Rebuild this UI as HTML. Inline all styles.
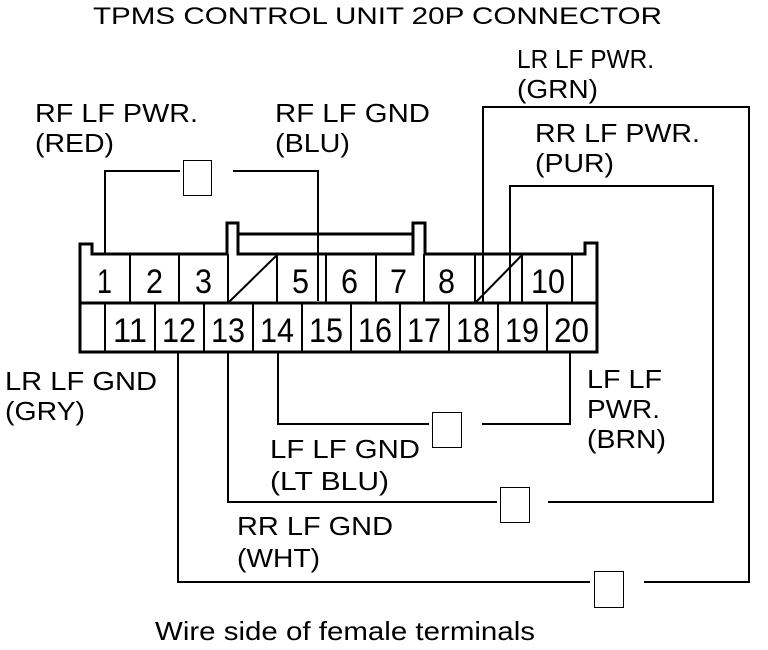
<!DOCTYPE html>
<html><head><meta charset="utf-8"><style>
html,body{margin:0;padding:0;background:#fff}
svg{display:block}
text{font-family:"Liberation Sans",Arial,sans-serif;font-size:26px;fill:#000}
.n{font-size:34px}
.t{font-size:24px}
</style></head><body>
<svg width="768" height="650" viewBox="0 0 768 650" xmlns="http://www.w3.org/2000/svg">
<g>
<text class="t" x="93" y="24" textLength="569" lengthAdjust="spacingAndGlyphs">TPMS CONTROL UNIT 20P CONNECTOR</text>
<text x="517" y="68" textLength="137" lengthAdjust="spacingAndGlyphs">LR LF PWR.</text>
<text x="517" y="98" textLength="81" lengthAdjust="spacingAndGlyphs">(GRN)</text>
<text x="35" y="122" textLength="163" lengthAdjust="spacingAndGlyphs">RF LF PWR.</text>
<text x="35" y="152" textLength="79" lengthAdjust="spacingAndGlyphs">(RED)</text>
<text x="275" y="122" textLength="155" lengthAdjust="spacingAndGlyphs">RF LF GND</text>
<text x="275" y="152" textLength="75" lengthAdjust="spacingAndGlyphs">(BLU)</text>
<text x="535" y="142" textLength="165" lengthAdjust="spacingAndGlyphs">RR LF PWR.</text>
<text x="535" y="172" textLength="79" lengthAdjust="spacingAndGlyphs">(PUR)</text>
<text x="5" y="390" textLength="152" lengthAdjust="spacingAndGlyphs">LR LF GND</text>
<text x="5" y="420" textLength="80" lengthAdjust="spacingAndGlyphs">(GRY)</text>
<text x="587" y="388" textLength="75" lengthAdjust="spacingAndGlyphs">LF LF</text>
<text x="587" y="418" textLength="73" lengthAdjust="spacingAndGlyphs">PWR.</text>
<text x="587" y="448" textLength="79" lengthAdjust="spacingAndGlyphs">(BRN)</text>
<text x="270" y="458" textLength="150" lengthAdjust="spacingAndGlyphs">LF LF GND</text>
<text x="270" y="490" textLength="119" lengthAdjust="spacingAndGlyphs">(LT BLU)</text>
<text x="237" y="535" textLength="156" lengthAdjust="spacingAndGlyphs">RR LF GND</text>
<text x="237" y="567" textLength="83" lengthAdjust="spacingAndGlyphs">(WHT)</text>
<text x="155" y="640" textLength="380" lengthAdjust="spacingAndGlyphs">Wire side of female terminals</text>
</g>
<g fill="none" stroke="#000" stroke-width="3">
<path d="M80 352 V244 H92 V254 H227 V223 H238 V254 H413 V223 H425 V254 H585 V243 H597 V352 Z"/>
<path d="M238 234 H413"/>
<line x1="80" y1="303" x2="597" y2="303"/>
</g>
<g stroke="#000" stroke-width="2">
<line x1="130" y1="254" x2="130" y2="303"/><line x1="179" y1="254" x2="179" y2="303"/>
<line x1="228" y1="254" x2="228" y2="303"/><line x1="277" y1="254" x2="277" y2="303"/>
<line x1="326" y1="254" x2="326" y2="303"/>
<line x1="376" y1="254" x2="376" y2="303"/><line x1="424" y1="254" x2="424" y2="303"/>
<line x1="475" y1="254" x2="475" y2="303"/><line x1="522" y1="254" x2="522" y2="303"/>
<line x1="572" y1="254" x2="572" y2="303"/>
<line x1="229" y1="302" x2="276" y2="256"/><line x1="476" y1="302" x2="521" y2="256"/>
<line x1="105" y1="303" x2="105" y2="352"/><line x1="155" y1="303" x2="155" y2="352"/>
<line x1="204" y1="303" x2="204" y2="352"/><line x1="253" y1="303" x2="253" y2="352"/>
<line x1="302" y1="303" x2="302" y2="352"/><line x1="351" y1="303" x2="351" y2="352"/>
<line x1="400" y1="303" x2="400" y2="352"/><line x1="449" y1="303" x2="449" y2="352"/>
<line x1="498" y1="303" x2="498" y2="352"/><line x1="547" y1="303" x2="547" y2="352"/>
</g>
<g>
<text class="n" x="97" y="293" textLength="15" lengthAdjust="spacingAndGlyphs">1</text>
<text class="n" x="146" y="293" textLength="17" lengthAdjust="spacingAndGlyphs">2</text>
<text class="n" x="195" y="293" textLength="17" lengthAdjust="spacingAndGlyphs">3</text>
<text class="n" x="292" y="293" textLength="17" lengthAdjust="spacingAndGlyphs">5</text>
<text class="n" x="341" y="293" textLength="17" lengthAdjust="spacingAndGlyphs">6</text>
<text class="n" x="390" y="293" textLength="17" lengthAdjust="spacingAndGlyphs">7</text>
<text class="n" x="438" y="293" textLength="17" lengthAdjust="spacingAndGlyphs">8</text>
<text class="n" x="531" y="293" textLength="34" lengthAdjust="spacingAndGlyphs">10</text>
<text class="n" x="113" y="342" textLength="34" lengthAdjust="spacingAndGlyphs">11</text>
<text class="n" x="162" y="342" textLength="34" lengthAdjust="spacingAndGlyphs">12</text>
<text class="n" x="211" y="342" textLength="34" lengthAdjust="spacingAndGlyphs">13</text>
<text class="n" x="260" y="342" textLength="34" lengthAdjust="spacingAndGlyphs">14</text>
<text class="n" x="309" y="342" textLength="34" lengthAdjust="spacingAndGlyphs">15</text>
<text class="n" x="358" y="342" textLength="34" lengthAdjust="spacingAndGlyphs">16</text>
<text class="n" x="407" y="342" textLength="34" lengthAdjust="spacingAndGlyphs">17</text>
<text class="n" x="456" y="342" textLength="34" lengthAdjust="spacingAndGlyphs">18</text>
<text class="n" x="505" y="342" textLength="34" lengthAdjust="spacingAndGlyphs">19</text>
<text class="n" x="554" y="342" textLength="35" lengthAdjust="spacingAndGlyphs">20</text>
</g>
<g fill="none" stroke="#000" stroke-width="2">
<path d="M105 254 V171 H180"/>
<path d="M233 171 H318 V301"/>
<path d="M483 302 V107 H749 V582 H644"/>
<path d="M510 302 V186 H713 V502 H548"/>
<path d="M278 352 V424 H429"/>
<path d="M482 424 H570 V352"/>
<path d="M228 352 V502 H497"/>
<path d="M178 352 V582 H590"/>
</g>
<g fill="#fff" stroke="#000" stroke-width="1">
<rect x="183.5" y="160.5" width="28" height="35"/>
<rect x="432.5" y="412.5" width="29" height="35"/>
<rect x="500.5" y="487.5" width="29" height="35"/>
<rect x="594.5" y="571.5" width="29" height="36"/>
</g>
</svg>
</body></html>
